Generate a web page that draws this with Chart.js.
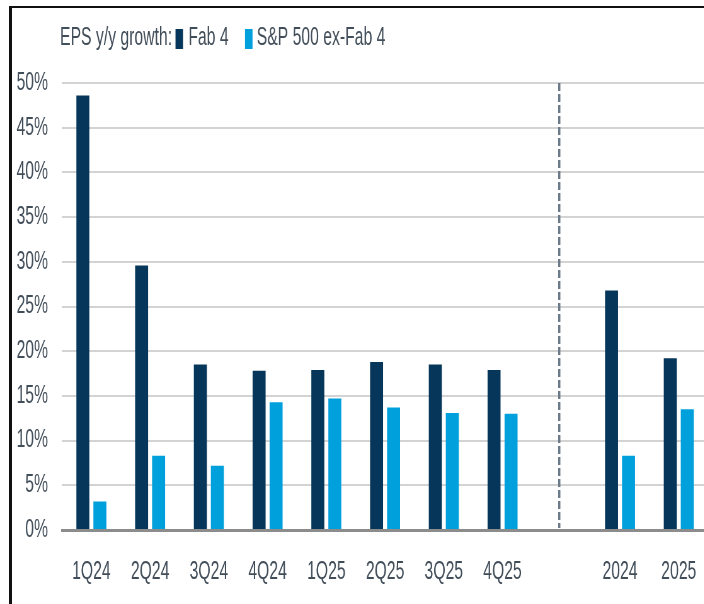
<!DOCTYPE html>
<html><head><meta charset="utf-8">
<script src="https://cdn.jsdelivr.net/npm/chart.js@4/dist/chart.umd.min.js"></script>
<style>
html,body{margin:0;padding:0;background:#fff;overflow:hidden;}
#wrap{position:relative;width:704px;height:604px;overflow:hidden;background:#fff;}
#c{position:absolute;left:0;top:0;transform-origin:0 0;}
#frame{position:absolute;left:9px;top:6px;width:800px;height:700px;border-top:2px solid #111;border-left:3px solid #111;pointer-events:none;}
</style></head><body>
<div id="wrap"><canvas id="c"></canvas><div id="frame"></div></div>
<script>
// ---- data ----
const categories = ['1Q24','2Q24','3Q24','4Q24','1Q25','2Q25','3Q25','4Q25','','2024','2025'];
const fab4 = [48.6, 29.6, 18.5, 17.8, 17.9, 18.8, 18.5, 17.9, null, 26.8, 19.2];
const spxExFab4 = [3.2, 8.3, 7.2, 14.3, 14.7, 13.7, 13.1, 13.0, null, 8.3, 13.5];
const seriesNames = ['Fab 4', 'S&P 500 ex-Fab 4'];
const legendTitle = 'EPS y/y growth:';
const yMin = 0, yMax = 50, yStep = 5;
const dividerIndex = 8;

// ---- styling ----
const S = 0.63;               // horizontal compression (condensed look)
const CW = 1136, CH = 604;
const DARK = '#063659', LIGHT = '#00A0DC', TEXT = '#414D59';
const FONT = '"Liberation Sans", Arial, sans-serif';

const canvas = document.getElementById('c');
canvas.width = CW; canvas.height = CH;
canvas.style.width = CW + 'px'; canvas.style.height = CH + 'px';
canvas.style.transform = 'scaleX(' + S + ')';

Chart.defaults.font.family = FONT;
Chart.defaults.color = TEXT;

const legendPlugin = {
  id: 'inlineLegend',
  afterDraw(chart) {
    const ctx = chart.ctx;
    ctx.save();
    ctx.font = '25px ' + FONT;
    ctx.fillStyle = TEXT;
    ctx.textBaseline = 'alphabetic';
    ctx.fillText(legendTitle, 60 / S, 45);
    ctx.fillStyle = DARK;
    ctx.fillRect(175.5 / S, 29, 7.5 / S, 20);
    ctx.fillStyle = TEXT;
    ctx.fillText(seriesNames[0], 188.3 / S, 45);
    ctx.fillStyle = LIGHT;
    ctx.fillRect(245 / S, 29, 7.5 / S, 20);
    ctx.fillStyle = TEXT;
    ctx.fillText(seriesNames[1], 256.7 / S, 45);
    ctx.restore();
  }
};

const dividerPlugin = {
  id: 'divider',
  beforeDatasetsDraw(chart) {
    const {ctx, chartArea, scales} = chart;
    const x = scales.x.getPixelForValue(dividerIndex) - 2 / S;
    ctx.save();
    ctx.strokeStyle = '#6B7B89';
    ctx.lineWidth = 2.2 / S;
    ctx.setLineDash([8, 3]);
    ctx.beginPath();
    ctx.moveTo(x, chartArea.top);
    ctx.lineTo(x, chartArea.bottom - 2);
    ctx.stroke();
    ctx.restore();
  }
};

new Chart(canvas, {
  type: 'bar',
  data: {
    labels: categories,
    datasets: [
      { label: seriesNames[0], data: fab4, backgroundColor: DARK },
      { label: seriesNames[1], data: spxExFab4, backgroundColor: LIGHT }
    ]
  },
  options: {
    responsive: false,
    animation: false,
    layout: { padding: { top: 83, left: 0, right: 12, bottom: 0 } },
    datasets: { bar: { categoryPercentage: 34 / 58.73, barPercentage: 13 / 17 } },
    plugins: { legend: { display: false }, tooltip: { enabled: false } },
    scales: {
      x: {
        grid: { display: false, drawTicks: false },
        border: { display: true, color: '#8C8C8C', width: 3 },
        ticks: { font: { size: 25 }, color: TEXT, padding: 27, maxRotation: 0, autoSkip: false },
        afterFit(sc) { sc.height = 74; }
      },
      y: {
        min: yMin, max: yMax,
        grid: {
          drawTicks: false,
          color: (c) => (c.tick && c.tick.value === 0) ? 'rgba(0,0,0,0)' : '#D3D3D3',
          lineWidth: 2
        },
        border: { display: false },
        ticks: { stepSize: yStep, font: { size: 25 }, color: TEXT, padding: 14 / S, callback: (v) => v + '%' },
        afterFit(sc) { sc.width = 62 / S; }
      }
    }
  },
  plugins: [legendPlugin, dividerPlugin]
});
</script>
</body></html>
